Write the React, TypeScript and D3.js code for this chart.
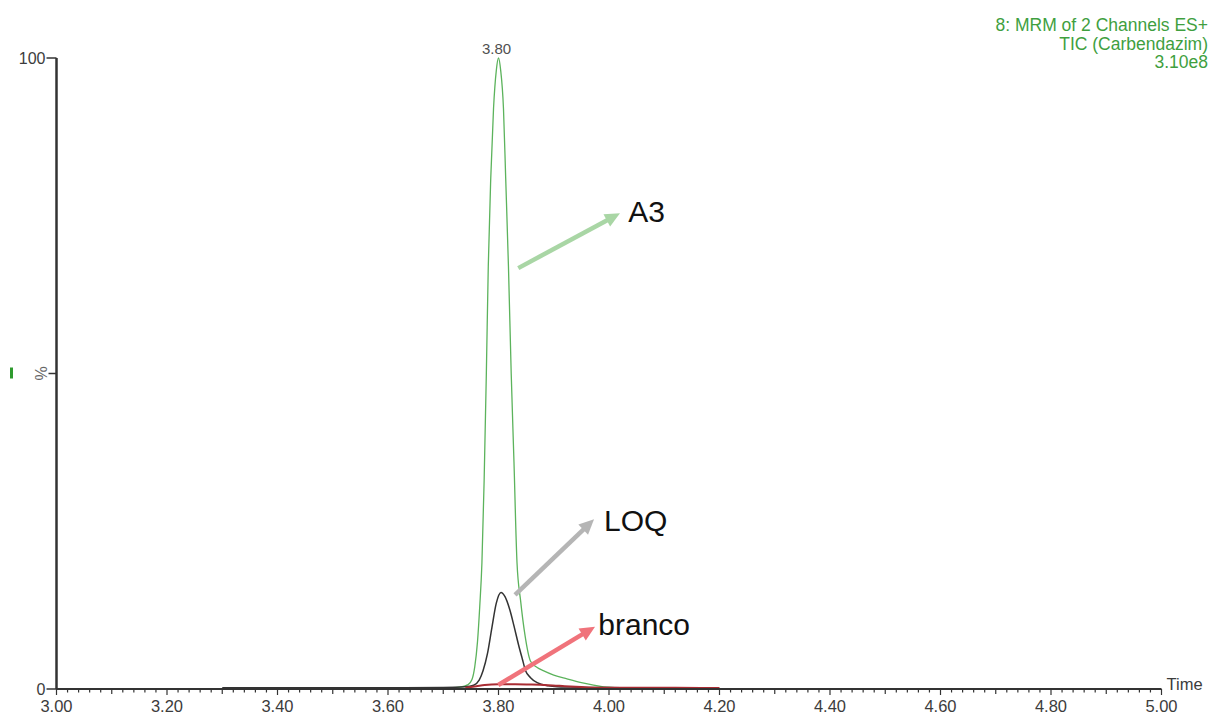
import React, { useEffect, useRef } from "react";
import * as d3 from "d3";

const W = 1211;
const H = 714;

// header text, top right
const headerLines = ["8: MRM of 2 Channels ES+", "TIC (Carbendazim)", "3.10e8"];

// axis labels
const xTickLabels = ["3.00", "3.20", "3.40", "3.60", "3.80", "4.00", "4.20", "4.40", "4.60", "4.80", "5.00"];
const yTickValues = [0, 100];
const yTickLabels = ["0", "100"];
const xAxisTitle = "Time";
const yAxisTitle = "%";

// apex label
const peakTime = 3.8;
const peakPct = 100;
const peakText = "3.80";

// A3 trace (green)
const a3Time = [3.70, 3.73, 3.745, 3.752, 3.757, 3.762, 3.766, 3.770, 3.774, 3.778, 3.7815, 3.786, 3.791, 3.796, 3.800, 3.804, 3.809, 3.813, 3.818, 3.823, 3.828, 3.8335, 3.840, 3.848, 3.858, 3.870, 3.881, 3.900, 3.924, 3.950, 3.972, 3.990, 4.02, 4.06];
const a3Pct = [0.15, 0.3, 0.7, 1.5, 3.5, 7.5, 13, 20, 33, 50, 67, 81, 92, 98, 100, 98, 92, 81, 67, 50, 36, 20, 14, 8.5, 4.4, 3.4, 2.9, 2.2, 1.6, 1.0, 0.6, 0.35, 0.2, 0.15];

// LOQ trace (black)
const loqTime = [3.30, 3.40, 3.50, 3.60, 3.70, 3.74, 3.755, 3.765, 3.772, 3.780, 3.788, 3.796, 3.8045, 3.812, 3.821, 3.828, 3.836, 3.843, 3.849, 3.858, 3.870, 3.890, 3.906, 3.93, 3.96, 4.00, 4.05, 4.10, 4.14];
const loqPct = [0.2, 0.2, 0.2, 0.2, 0.25, 0.35, 0.6, 1.4, 2.9, 5.6, 9.7, 13.6, 15.3, 14.6, 12.4, 10, 7.1, 4.8, 2.9, 1.8, 1.0, 0.5, 0.35, 0.3, 0.25, 0.22, 0.2, 0.2, 0.2];

// branco trace (red)
const brancoTime = [3.74, 3.76, 3.775, 3.80, 3.83, 3.86, 3.89, 3.92, 3.95, 3.98, 4.05, 4.12, 4.20];
const brancoPct = [0.2, 0.45, 0.65, 0.75, 0.75, 0.7, 0.6, 0.45, 0.3, 0.2, 0.18, 0.18, 0.15];

// annotation arrows, in data units (time, %)
const noteLabels = ["A3", "LOQ", "branco"];
const noteFromTime = [3.8358, 3.8299, 3.7996];
const noteFromPct = [66.7, 14.9, 0.63];
const noteToTime = [4.0199, 3.9729, 3.9747];
const noteToPct = [75.4, 26.9, 9.87];
const noteTextTime = [4.0349, 3.991, 3.9806];
const noteTextPct = [74.0, 25.0, 8.56];

const FONT = "'Liberation Sans', Arial, sans-serif";

export default function App() {
  const svgRef = useRef<SVGSVGElement>(null);

  useEffect(() => {
    if (!svgRef.current) return;
    const svg = d3.select(svgRef.current);
    svg.selectAll("*").remove();

    const x = d3.scaleLinear().domain([3, 5]).range([56.5, 1161.5]);
    const y = d3.scaleLinear().domain([0, 100]).range([689, 58]);

    const axisColor = "#333333";
    const textColor = "#3c3c3c";

    // header
    svg.append("g")
      .selectAll("text")
      .data(headerLines)
      .enter()
      .append("text")
      .attr("x", 1208)
      .attr("y", (d, i) => 31 + i * 18.5)
      .attr("text-anchor", "end")
      .attr("fill", "#3f9f3f")
      .style("font-family", FONT)
      .style("font-size", "17.5px")
      .text(d => d);

    // traces
    const line = d3.line<[number, number]>()
      .x(d => x(d[0]))
      .y(d => y(d[1]))
      .curve(d3.curveMonotoneX);

    const traces = [
      { t: a3Time, v: a3Pct, color: "#5cb35c", w: 1.3 },
      { t: loqTime, v: loqPct, color: "#333333", w: 1.5 },
      { t: brancoTime, v: brancoPct, color: "#a92c33", w: 2 },
    ];
    traces.forEach(tr => {
      svg.append("path")
        .datum(tr.t.map((t, i) => [t, tr.v[i]] as [number, number]))
        .attr("d", line)
        .attr("fill", "none")
        .attr("stroke", tr.color)
        .attr("stroke-width", tr.w)
        .attr("stroke-linejoin", "round");
    });

    // y axis
    svg.append("line")
      .attr("x1", x(3)).attr("x2", x(3))
      .attr("y1", y(100)).attr("y2", y(0))
      .attr("stroke", axisColor)
      .attr("stroke-width", 2.5);

    const yTicks = svg.append("g");
    yTickValues.forEach((v, i) => {
      yTicks.append("line")
        .attr("x1", x(3) - 10).attr("x2", x(3))
        .attr("y1", y(v)).attr("y2", y(v))
        .attr("stroke", axisColor)
        .attr("stroke-width", 1.5);
      yTicks.append("text")
        .attr("x", x(3) - 11)
        .attr("y", y(v))
        .attr("dy", "0.36em")
        .attr("text-anchor", "end")
        .attr("fill", textColor)
        .style("font-family", FONT)
        .style("font-size", "16px")
        .text(yTickLabels[i]);
    });

    // % tick and label at mid height
    svg.append("line")
      .attr("x1", x(3) - 8).attr("x2", x(3))
      .attr("y1", y(50)).attr("y2", y(50))
      .attr("stroke", axisColor)
      .attr("stroke-width", 1.5);
    svg.append("text")
      .attr("transform", `translate(${x(3) - 10},${y(50)}) rotate(-90)`)
      .attr("text-anchor", "middle")
      .attr("fill", "#666")
      .style("font-family", FONT)
      .style("font-size", "16px")
      .text(yAxisTitle);
    svg.append("rect")
      .attr("x", 10).attr("y", y(50) - 6)
      .attr("width", 3).attr("height", 11)
      .attr("fill", "#2e9a2e");

    // x axis
    svg.append("line")
      .attr("x1", x(3)).attr("x2", x(5))
      .attr("y1", y(0)).attr("y2", y(0))
      .attr("stroke", axisColor)
      .attr("stroke-width", 2);

    const minor = x.ticks(100);
    svg.append("g")
      .selectAll("line")
      .data(minor)
      .enter()
      .append("line")
      .attr("x1", d => x(d)).attr("x2", d => x(d))
      .attr("y1", y(0))
      .attr("y2", (d, i) => y(0) + (i % 10 === 0 ? 6 : i % 5 === 0 ? 5 : 3.5))
      .attr("stroke", axisColor)
      .attr("stroke-width", 1.2);

    svg.append("g")
      .selectAll("text")
      .data(xTickLabels)
      .enter()
      .append("text")
      .attr("x", d => x(+d))
      .attr("y", 712)
      .attr("text-anchor", "middle")
      .attr("fill", textColor)
      .style("font-family", FONT)
      .style("font-size", "16.5px")
      .text(d => d);

    svg.append("text")
      .attr("x", x(5) + 5)
      .attr("y", y(0) + 1)
      .attr("fill", textColor)
      .style("font-family", FONT)
      .style("font-size", "16.5px")
      .text(xAxisTitle);

    // apex label
    svg.append("text")
      .attr("x", x(peakTime) - 2)
      .attr("y", y(peakPct) - 4)
      .attr("text-anchor", "middle")
      .attr("fill", "#505050")
      .style("font-family", FONT)
      .style("font-size", "15px")
      .text(peakText);

    // annotation arrows
    const noteColors = ["#a9d6a5", "#b5b5b5", "#f0737b"];
    noteLabels.forEach((label, i) => {
      const x0 = x(noteFromTime[i]);
      const y0 = y(noteFromPct[i]);
      const x1 = x(noteToTime[i]);
      const y1 = y(noteToPct[i]);
      const ang = Math.atan2(y1 - y0, x1 - x0);
      const headLen = 15;
      const headW = 7;
      const bx = x1 - headLen * Math.cos(ang);
      const by = y1 - headLen * Math.sin(ang);
      svg.append("line")
        .attr("x1", x0).attr("y1", y0)
        .attr("x2", bx + 2 * Math.cos(ang)).attr("y2", by + 2 * Math.sin(ang))
        .attr("stroke", noteColors[i])
        .attr("stroke-width", 4.5);
      const px = -Math.sin(ang);
      const py = Math.cos(ang);
      svg.append("path")
        .attr("d", `M${x1},${y1}L${bx + px * headW},${by + py * headW}L${bx - px * headW},${by - py * headW}Z`)
        .attr("fill", noteColors[i]);
      svg.append("text")
        .attr("x", x(noteTextTime[i]))
        .attr("y", y(noteTextPct[i]))
        .attr("fill", "#111")
        .style("font-family", FONT)
        .style("font-size", "30px")
        .text(label);
    });
  }, []);

  return (
    <div style={{ position: "absolute", left: 0, top: 0, width: W, height: H, background: "#fff" }}>
      <svg ref={svgRef} width={W} height={H} style={{ display: "block" }} />
    </div>
  );
}
